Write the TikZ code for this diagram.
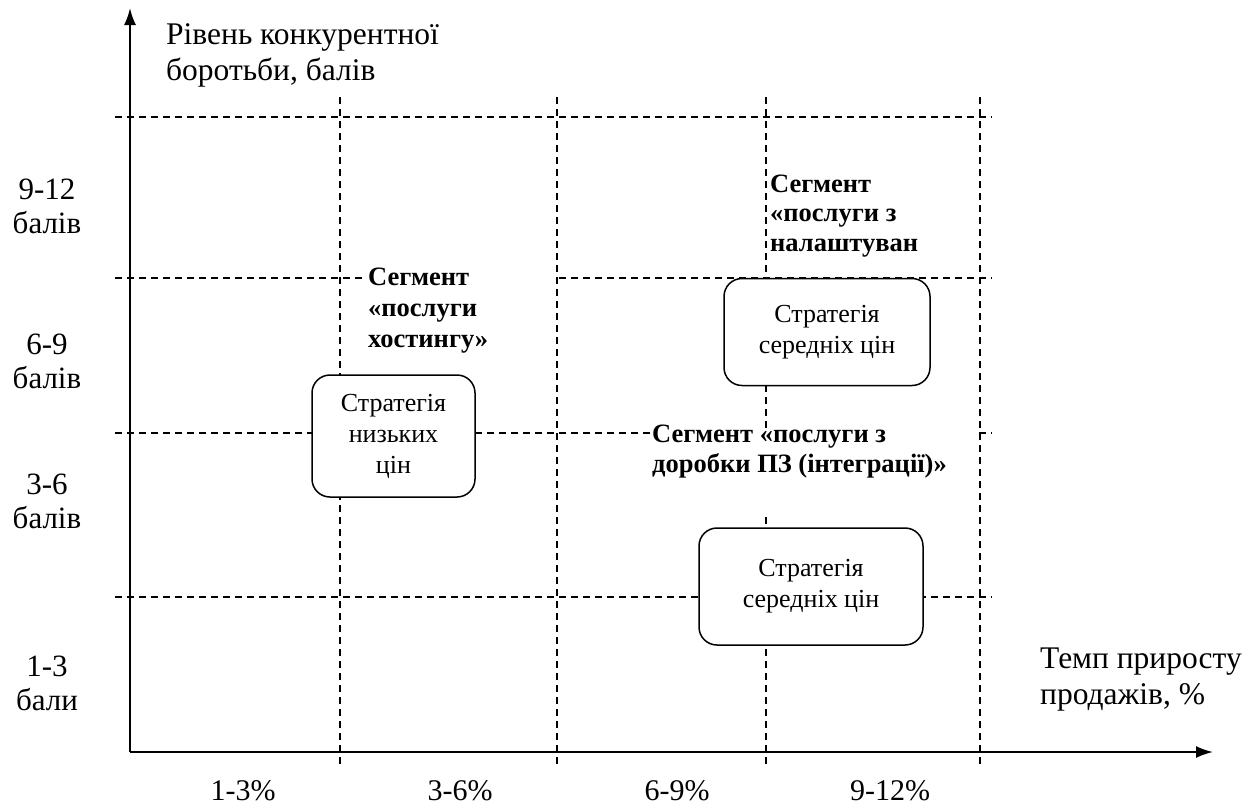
\documentclass[tikz,border=0pt]{standalone}
\usepackage{fontspec}
\setmainfont{Liberation Serif}
\usetikzlibrary{arrows.meta}
\begin{document}
\begin{tikzpicture}[x=1pt,y=-1pt,
  gridline/.style={line width=1.2pt, dash pattern=on 7pt off 5pt},
  axisline/.style={line width=2pt, -{Latex[length=17pt,width=12pt]}},
  strat/.style={draw, line width=1.5pt, rounded corners=18pt, fill=white, align=center,
    inner sep=0pt, font=\fontsize{26}{31}\selectfont},
  seg/.style={font=\bfseries\fontsize{26.5}{30}\selectfont, align=left, anchor=base west, inner sep=0pt},
  lbl/.style={font=\fontsize{31}{34}\selectfont, align=center, inner sep=0pt},
  pct/.style={font=\fontsize{30}{34}\selectfont, anchor=base, inner sep=0pt},
  title/.style={font=\fontsize{31.5}{36}\selectfont, align=left, anchor=base west, inner sep=0pt},
  cover/.style={fill=white, draw=none}]
\useasboundingbox (0,0) rectangle (1258,807);
% grid
\foreach \yy in {117,278,433,597} \draw[gridline] (115,\yy) -- (992,\yy);
\foreach \xx in {340,557,766,980} \draw[gridline] (\xx,97) -- (\xx,768);
% white text frames
\fill[cover] (366,262) rectangle (554,372);
\fill[cover] (770,163) rectangle (976,263);
\fill[cover] (650,429) rectangle (977,512);
% axes
\coordinate (O) at (130,752);
\coordinate (ytip) at (130,8);
\coordinate (xtip) at (1213,752);
\draw[axisline] (O) -- (ytip);
\draw[axisline] (O) -- (xtip);
% axis titles (base = last line)
\node[title] (ytitle) at (166,80) {Рівень конкурентної\\боротьби, балів};
\node[title] (xtitle) at (1040,704) {Темп приросту\\продажів, \%};
% y labels
\node[lbl] (y1) at (47,206) {9-12\\балів};
\node[lbl] (y2) at (47,361) {6-9\\балів};
\node[lbl] (y3) at (47,501) {3-6\\балів};
\node[lbl] (y4) at (47,683) {1-3\\бали};
% x labels
\node[pct] (x1) at (243,800) {1-3\%};
\node[pct] (x2) at (460,800) {3-6\%};
\node[pct] (x3) at (677,800) {6-9\%};
\node[pct] (x4) at (890,800) {9-12\%};
% segment labels (base = last line)
\node[seg, font=\bfseries\fontsize{26.5}{31}\selectfont] (s1) at (368,347) {Сегмент\\«послуги\\хостингу»};
\node[seg, font=\bfseries\fontsize{26.5}{29.5}\selectfont] (s2) at (770,251) {Сегмент\\«послуги з\\налаштуван};
\node[seg] (s3) at (652,472) {Сегмент «послуги з\\доробки ПЗ (інтеграції)»};
% strategy boxes
\node[strat, minimum width=163pt, minimum height=122pt] (b1) at (393.5,436) {Стратегія\\низьких\\цін};
\node[strat, minimum width=206pt, minimum height=107pt] (b2) at (827,332) {Стратегія\\середніх цін};
\node[strat, minimum width=224pt, minimum height=117pt] (b3) at (811,586.5) {Стратегія\\середніх цін};
\end{tikzpicture}
\end{document}
